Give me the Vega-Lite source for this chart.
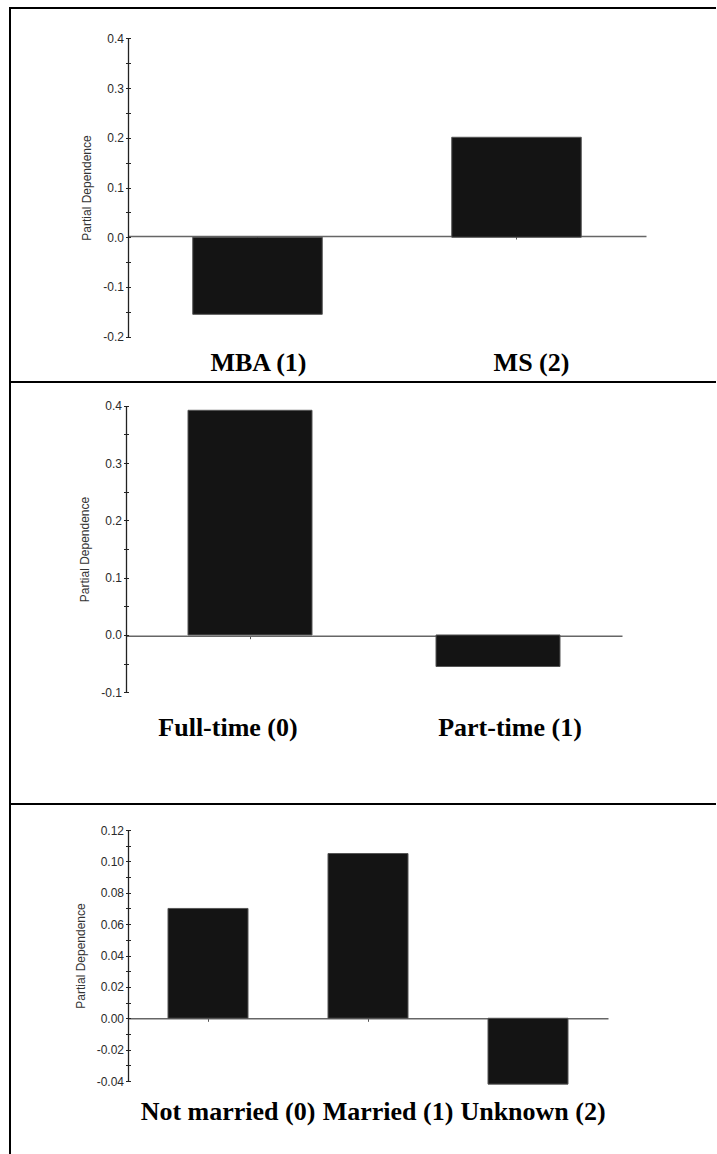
{
  "$schema": "https://vega.github.io/schema/vega-lite/v6.json",
  "background": "white",
  "padding": {"left": 9, "top": 7, "right": 0, "bottom": 0},
  "spacing": 0,
  "bounds": "flush",
  "config": {
    "view": {"stroke": "#000", "strokeWidth": 2, "strokeDash": [706, 1056, 2000]},
    "axis": {"grid": false},
    "bar": {"fill": "#141414", "stroke": "#555", "strokeWidth": 1}
  },
  "vconcat": [
    {
      "width": 706,
      "height": 374,
      "data": {"values": [
        {"cat": "MBA (1)", "pd": -0.155},
        {"cat": "MS (2)", "pd": 0.201}
      ]},
      "resolve": {"axis": {"y": "independent"}},
      "layer": [
        {
          "mark": {"type": "bar"},
          "encoding": {
            "x": {
              "field": "cat", "type": "nominal", "sort": null,
              "scale": {"range": [118, 636], "paddingInner": 0.5, "paddingOuter": 0.25},
              "axis": {
                "orient": "bottom", "offset": -146, "title": null,
                "domainColor": "#666", "domainWidth": 1.5,
                "tickColor": "#555", "tickSize": 3,
                "labelPadding": 131, "labelBaseline": "alphabetic", "labelAngle": 0,
                "labelFont": "Liberation Serif", "labelFontSize": 26, "labelFontWeight": "bold",
                "labelColor": "#000", "labelLimit": 600,
                "labelOffset": {"condition": {"test": "datum.value === 'MS (2)'", "value": 15}, "value": 1}
              }
            },
            "y": {
              "field": "pd", "type": "quantitative",
              "scale": {"domain": [-0.2, 0.4], "range": [328.7, 30.3], "nice": false, "zero": false},
              "axis": {
                "orient": "left", "offset": -118,
                "values": [-0.2, -0.1, 0, 0.1, 0.2, 0.3, 0.4],
                "labelExpr": "(datum.value < -1e-9 ? '-' : '') + format(abs(datum.value), '.1f')",
                "domainColor": "#222", "domainWidth": 1.3, "ticks": false,
                "labelPadding": 4.5, "labelFont": "Liberation Sans", "labelFontSize": 12, "labelColor": "#2a2a2a",
                "title": "Partial Dependence", "titleFont": "Liberation Sans", "titleFontSize": 12,
                "titleFontWeight": "normal", "titleColor": "#333", "titlePadding": 9
              }
            }
          }
        },
        {
          "mark": {"type": "bar", "opacity": 0},
          "encoding": {
            "x": {"field": "cat", "type": "nominal", "sort": null},
            "y": {
              "field": "pd", "type": "quantitative",
              "axis": {
                "orient": "left", "offset": -120.5,
                "values": [-0.2, -0.15, -0.1, -0.05, 0, 0.05, 0.1, 0.15, 0.2, 0.25, 0.3, 0.35, 0.4],
                "labels": false, "domain": false, "title": null,
                "tickColor": "#222", "tickSize": 5, "tickWidth": 1
              }
            }
          }
        }
      ]
    },
    {
      "width": 706,
      "height": 422,
      "data": {"values": [
        {"cat": "Full-time (0)", "pd": 0.392},
        {"cat": "Part-time (1)", "pd": -0.055}
      ]},
      "resolve": {"axis": {"y": "independent"}},
      "layer": [
        {
          "mark": {"type": "bar"},
          "encoding": {
            "x": {
              "field": "cat", "type": "nominal", "sort": null,
              "scale": {"range": [116, 612], "paddingInner": 0.5, "paddingOuter": 0.25},
              "axis": {
                "orient": "bottom", "offset": -168.3, "title": null,
                "domainColor": "#666", "domainWidth": 1.5,
                "tickColor": "#555", "tickSize": 3,
                "labelPadding": 96.3, "labelBaseline": "alphabetic", "labelAngle": 0,
                "labelFont": "Liberation Serif", "labelFontSize": 26, "labelFontWeight": "bold",
                "labelColor": "#000", "labelLimit": 600,
                "labelOffset": {"condition": {"test": "datum.value === 'Full-time (0)'", "value": -22}, "value": 12}
              }
            },
            "y": {
              "field": "pd", "type": "quantitative",
              "scale": {"domain": [-0.1, 0.4], "range": [310.3, 23.7], "nice": false, "zero": false},
              "axis": {
                "orient": "left", "offset": -116,
                "values": [-0.1, 0, 0.1, 0.2, 0.3, 0.4],
                "labelExpr": "(datum.value < -1e-9 ? '-' : '') + format(abs(datum.value), '.1f')",
                "domainColor": "#222", "domainWidth": 1.3, "ticks": false,
                "labelPadding": 4.5, "labelFont": "Liberation Sans", "labelFontSize": 12, "labelColor": "#2a2a2a",
                "title": "Partial Dependence", "titleFont": "Liberation Sans", "titleFontSize": 12,
                "titleFontWeight": "normal", "titleColor": "#333", "titlePadding": 9
              }
            }
          }
        },
        {
          "mark": {"type": "bar", "opacity": 0},
          "encoding": {
            "x": {"field": "cat", "type": "nominal", "sort": null},
            "y": {
              "field": "pd", "type": "quantitative",
              "axis": {
                "orient": "left", "offset": -118.5,
                "values": [-0.1, -0.05, 0, 0.05, 0.1, 0.15, 0.2, 0.25, 0.3, 0.35, 0.4],
                "labels": false, "domain": false, "title": null,
                "tickColor": "#222", "tickSize": 5, "tickWidth": 1
              }
            }
          }
        }
      ]
    },
    {
      "width": 706,
      "height": 350,
      "data": {"values": [
        {"cat": "Not married (0)", "pd": 0.070},
        {"cat": "Married (1)", "pd": 0.105},
        {"cat": "Unknown (2)", "pd": -0.042}
      ]},
      "resolve": {"axis": {"y": "independent"}},
      "layer": [
        {
          "mark": {"type": "bar"},
          "encoding": {
            "x": {
              "field": "cat", "type": "nominal", "sort": null,
              "scale": {"range": [118, 598], "paddingInner": 0.5, "paddingOuter": 0.25},
              "axis": {
                "orient": "bottom", "offset": -135.7, "title": null,
                "domainColor": "#666", "domainWidth": 1.5,
                "tickColor": "#555", "tickSize": 3,
                "labelPadding": 97.7, "labelBaseline": "alphabetic", "labelAngle": 0,
                "labelFont": "Liberation Serif", "labelFontSize": 26, "labelFontWeight": "bold",
                "labelColor": "#000", "labelLimit": 600,
                "labelOffset": {"condition": {"test": "datum.value === 'Unknown (2)'", "value": 5}, "value": 20}
              }
            },
            "y": {
              "field": "pd", "type": "quantitative",
              "scale": {"domain": [-0.04, 0.12], "range": [277, 26], "nice": false, "zero": false},
              "axis": {
                "orient": "left", "offset": -118,
                "values": [-0.04, -0.02, 0, 0.02, 0.04, 0.06, 0.08, 0.1, 0.12],
                "labelExpr": "(datum.value < -1e-9 ? '-' : '') + format(abs(datum.value), '.2f')",
                "domainColor": "#222", "domainWidth": 1.3, "ticks": false,
                "labelPadding": 4.5, "labelFont": "Liberation Sans", "labelFontSize": 12, "labelColor": "#2a2a2a",
                "title": "Partial Dependence", "titleFont": "Liberation Sans", "titleFontSize": 12,
                "titleFontWeight": "normal", "titleColor": "#333", "titlePadding": 9
              }
            }
          }
        },
        {
          "mark": {"type": "bar", "opacity": 0},
          "encoding": {
            "x": {"field": "cat", "type": "nominal", "sort": null},
            "y": {
              "field": "pd", "type": "quantitative",
              "axis": {
                "orient": "left", "offset": -120.5,
                "values": [-0.04, -0.03, -0.02, -0.01, 0, 0.01, 0.02, 0.03, 0.04, 0.05, 0.06, 0.07, 0.08, 0.09, 0.1, 0.11, 0.12],
                "labels": false, "domain": false, "title": null,
                "tickColor": "#222", "tickSize": 5, "tickWidth": 1
              }
            }
          }
        }
      ]
    }
  ]
}
